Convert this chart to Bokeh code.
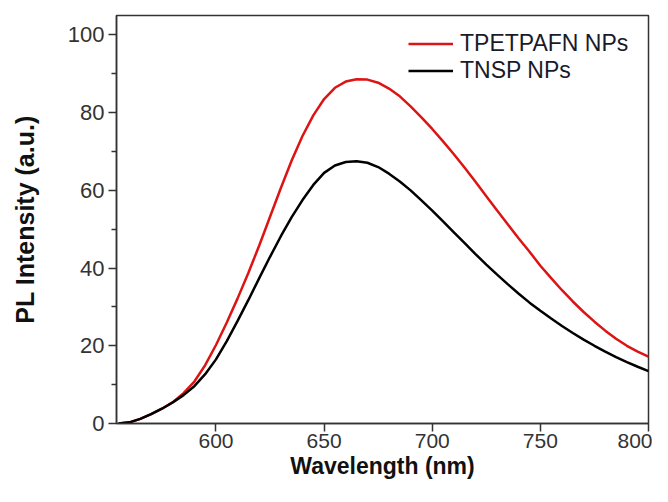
from bokeh.plotting import figure
from bokeh.models import Range1d, Legend, LegendItem, FixedTicker
from bokeh.embed import file_html
from bokeh.resources import INLINE

wavelength = [555, 560, 565, 570, 575, 580, 585, 590, 595, 600,
              605, 610, 615, 620, 625, 630, 635, 640, 645, 650,
              655, 660, 665, 670, 675, 680, 685, 690, 695, 700,
              705, 710, 715, 720, 725, 730, 735, 740, 745, 750,
              755, 760, 765, 770, 775, 780, 785, 790, 795, 800]

tpetpafn = [0.0, 0.3, 1.2, 2.4, 3.8, 5.5, 7.8, 10.8, 15.0, 20.2,
            26.0, 32.2, 38.8, 45.8, 53.2, 60.6, 67.7, 74.0, 79.3, 83.5,
            86.4, 88.0, 88.6, 88.5, 87.7, 86.2, 84.2, 81.6, 78.8, 75.8,
            72.6, 69.3, 65.8, 62.2, 58.5, 54.8, 51.2, 47.6, 44.2, 40.6,
            37.4, 34.3, 31.4, 28.7, 26.2, 23.9, 21.8, 20.0, 18.5, 17.2]

tnsp = [0.0, 0.3, 1.2, 2.4, 3.8, 5.4, 7.3, 9.6, 12.7, 16.5,
        21.2, 26.4, 31.8, 37.4, 42.9, 48.2, 53.1, 57.5, 61.4, 64.5,
        66.4, 67.3, 67.5, 67.1, 66.0, 64.3, 62.3, 60.0, 57.4, 54.8,
        52.0, 49.2, 46.4, 43.6, 40.9, 38.3, 35.8, 33.4, 31.1, 29.0,
        27.0, 25.1, 23.3, 21.6, 20.0, 18.5, 17.1, 15.8, 14.6, 13.5]

series_names = ["TPETPAFN NPs", "TNSP NPs"]
x_ticks = [600, 650, 700, 750, 800]
y_ticks = [0, 20, 40, 60, 80, 100]
y_minor = [10, 30, 50, 70, 90]

p = figure(width=652, height=486, output_backend="svg", toolbar_location=None,
           x_range=Range1d(554, 800), y_range=Range1d(0, 105),
           min_border_left=116, min_border_right=4, min_border_top=15,
           min_border_bottom=63)

p.grid.visible = False
p.background_fill_color = "white"
p.border_fill_color = "white"
p.outline_line_color = "#333333"
p.outline_line_width = 1.5

r1 = p.line(wavelength, tpetpafn, line_color="#dc1414", line_width=2.5)
r2 = p.line(wavelength, tnsp, line_color="#000000", line_width=2.5)

font = "Liberation Sans"
for ax in (p.xaxis[0], p.yaxis[0]):
    ax.axis_line_color = "#333333"
    ax.axis_line_width = 1.5
    ax.major_tick_line_color = "#333333"
    ax.major_tick_line_width = 1.5
    ax.minor_tick_line_color = "#333333"
    ax.minor_tick_line_width = 1.5
    ax.major_tick_in = 0
    ax.major_tick_out = 8
    ax.minor_tick_in = 0
    ax.minor_tick_out = 5
    ax.major_label_text_font = font
    ax.major_label_text_color = "#333333"
    ax.axis_label_text_font = font
    ax.axis_label_text_font_style = "bold"
    ax.axis_label_text_color = "#111111"

p.xaxis[0].major_label_text_font_size = "21px"
p.yaxis[0].major_label_text_font_size = "22px"
p.xaxis[0].axis_label_text_font_size = "23px"
p.yaxis[0].axis_label_text_font_size = "25px"

p.xaxis[0].ticker = FixedTicker(ticks=x_ticks)
p.yaxis[0].ticker = FixedTicker(ticks=y_ticks, minor_ticks=y_minor)
p.xaxis[0].axis_label = "Wavelength (nm)"
p.yaxis[0].axis_label = "PL Intensity (a.u.)"
p.xaxis[0].major_label_standoff = 2
p.yaxis[0].major_label_standoff = 4
p.xaxis[0].axis_label_standoff = 2
p.yaxis[0].axis_label_standoff = 26

legend = Legend(items=[LegendItem(label=series_names[0], renderers=[r1]),
                       LegendItem(label=series_names[1], renderers=[r2])],
                location=(292, 339), orientation="vertical",
                border_line_alpha=0, background_fill_alpha=0,
                padding=0, margin=0, spacing=0,
                glyph_width=45, glyph_height=23, label_height=23,
                label_standoff=7,
                label_text_font=font, label_text_font_size="23px",
                label_text_color="#1a1a2a")
p.add_layout(legend, "center")

open("out.html", "w").write(file_html(p, INLINE))
